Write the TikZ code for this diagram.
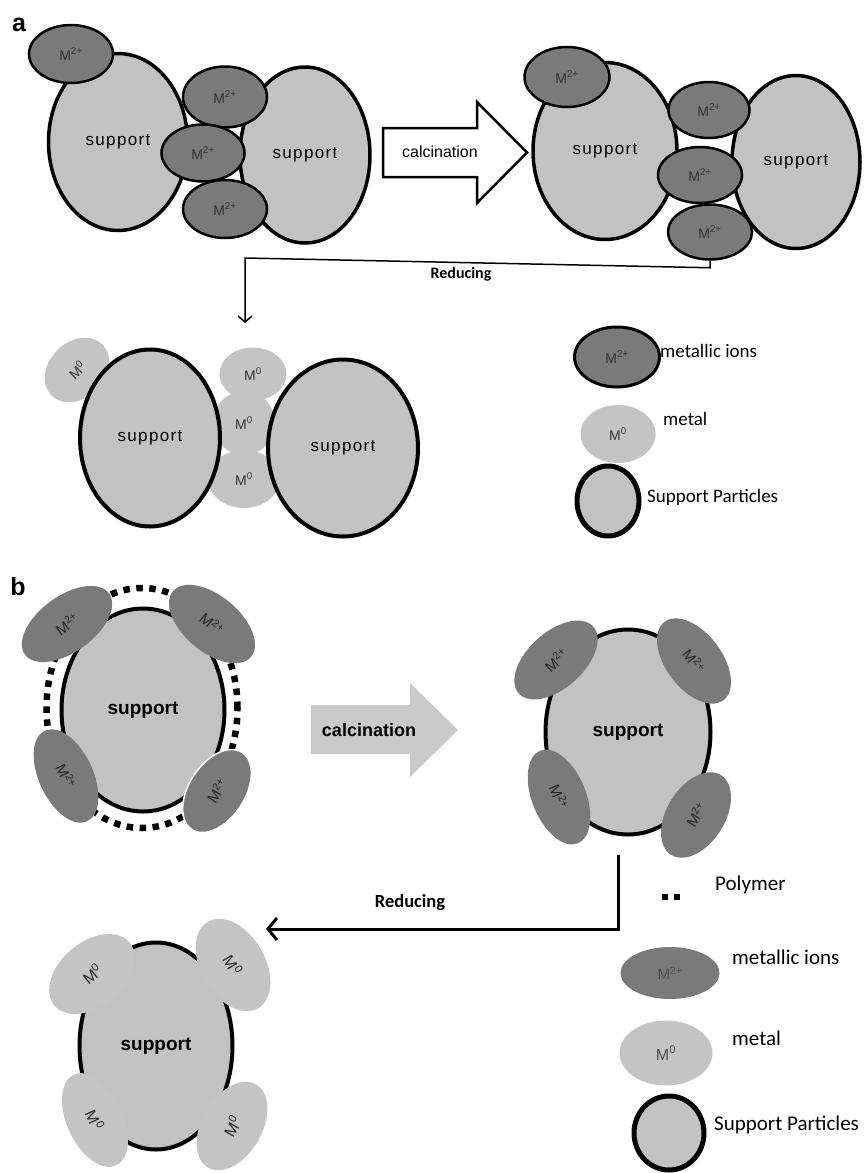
\documentclass[tikz,border=0pt]{standalone}
\usepackage{fontspec}
\setmainfont{Liberation Sans}
\newfontfamily\calfont{Carlito}
\newfontfamily\spfont[LetterSpace=8]{Liberation Sans}
\usetikzlibrary{shapes.geometric,arrows.meta}
\definecolor{suppgray}{gray}{0.76}
\definecolor{iongray}{gray}{0.48}
\definecolor{metalgray}{gray}{0.77}
\definecolor{arrowgray}{gray}{0.79}
\definecolor{txtdark}{gray}{0.2}
\newcommand\Mion{M\textsuperscript{2+}}
\newcommand\Mzero{M\textsuperscript{0}}
\tikzset{
  sz/.style 2 args={minimum width=#1pt, minimum height=#2pt},
  supp/.style={ellipse, draw=black, line width=3.5pt, fill=suppgray, inner sep=0pt,
    font=\spfont\fontsize{17}{17}\selectfont},
  ion/.style={ellipse, draw=black, line width=2.5pt, fill=iongray, inner sep=0pt,
    text=txtdark, font=\fontsize{14}{14}\selectfont},
  metal/.style={ellipse, fill=metalgray, inner sep=0pt, text=txtdark,
    font=\fontsize{14}{14}\selectfont},
  bsupp/.style={ellipse, draw=black, line width=4pt, fill=suppgray, inner sep=0pt,
    font=\bfseries\fontsize{19}{19}\selectfont},
  bion/.style={ellipse, fill=iongray, inner sep=0pt, text=black!85,
    font=\fontsize{15}{15}\selectfont},
  bmetal/.style={ellipse, fill=metalgray, inner sep=0pt, text=black!85,
    font=\fontsize{16}{16}\selectfont},
  legtext/.style={anchor=west, inner sep=0pt, font=\calfont\fontsize{19}{19}\selectfont},
  legtextb/.style={anchor=west, inner sep=0pt, font=\calfont\fontsize{21}{21}\selectfont},
  redu/.style={font=\calfont\bfseries\fontsize{16}{16}\selectfont},
  panel/.style={font=\bfseries\fontsize{25}{25}\selectfont},
}
\begin{document}
\begin{tikzpicture}[x=1pt,y=-1pt]
\useasboundingbox (0,0) rectangle (867,1173);

% ---------- panel a ----------
\node[panel] (la) at (19,25) {a};

% top-left group
\node[supp, sz={139}{177}] (s1) at (118,142) {support};
\node[supp, sz={130}{176}] (s2) at (305,155) {support};
\node[ion, sz={84}{58}] (i1) at (71,54) {\Mion};
\node[ion, sz={84}{61}] (i2) at (225,97) {\Mion};
\node[ion, sz={83}{57}] (i3) at (203,153) {\Mion};
\node[ion, sz={84}{58}] (i4) at (225,209) {\Mion};

% calcination arrow (white)
\draw[line width=2.5pt, fill=white] (383,128) -- (477,128) -- (477,102) -- (527,152.5)
  -- (477,203) -- (477,177) -- (383,177) -- cycle;
\node[font=\fontsize{16}{16}\selectfont] (ca) at (440,152) {calcination};

% top-right group
\node[supp, sz={144}{177}] (s3) at (605,151) {support};
\node[supp, sz={128}{173}] (s4) at (796,162) {support};
\node[ion, sz={85}{60}] (i5) at (567,77) {\Mion};
\node[ion, sz={81}{56}] (i6) at (709,110) {\Mion};
\node[ion, sz={84}{56}] (i7) at (700,175) {\Mion};
\node[ion, sz={84}{55}] (i8) at (710,232) {\Mion};

% reducing connector a
\coordinate (ra1) at (245,258);
\coordinate (ra2) at (245,323);
\draw[line width=1.5pt, -{Straight Barb[length=6pt,width=14pt]}]
  (i8.south) -- ++(0,7) -- (ra1) -- (ra2);
\node[redu] (rl1) at (461,274) {Reducing};

% bottom-left group
\node[metal, sz={72}{56}, rotate=45] (m1) at (77,370) {\Mzero};
\node[metal, sz={67}{53}] (m2) at (253,374) {\Mzero};
\node[metal, sz={62}{64}] (m3) at (244,423) {\Mzero};
\node[metal, sz={72}{58}] (m4) at (244,479) {\Mzero};
\node[supp, line width=4pt, sz={140}{177}] (s5) at (150,438) {support};
\node[supp, line width=4pt, sz={150}{177}] (s6) at (343,448) {support};

% legend a
\node[ion, line width=3pt, sz={85}{60}] (li) at (617,357) {\Mion};
\node[legtext] (lit) at (660,351) {metallic ions};
\node[metal, sz={75}{58}] (lm) at (618,434) {\Mzero};
\node[legtext] (lmt) at (663,419) {metal};
\node[supp, line width=5pt, sz={62}{70}] (ls) at (608,501) {};
\node[legtext] (lst) at (647,497) {Support Particles};

% ---------- panel b ----------
\node[panel] (lb) at (18,587) {b};

% group 1 with polymer
\node[ellipse, draw=black, line width=6.5pt, dash pattern=on 6.5pt off 6.5pt,
  sz={191}{240}] (poly) at (142,708) {};
\node[bsupp, sz={163}{203}] (bs1) at (143,710) {support};
\node[bion, sz={104}{56}, rotate=36] (b1a) at (67,624) {\Mion};
\node[bion, sz={102}{56}, rotate=-40] (b1b) at (212,624) {\Mion};
\node[bion, sz={100}{54}, rotate=-65] (b1c) at (66,776) {\Mion};
\node[bion, draw=white, line width=1.5pt, sz={92}{56}, rotate=57] (b1d) at (217,791) {\Mion};

% calcination arrow (grey)
\fill[arrowgray] (311,705) -- (410,705) -- (410,683) -- (458,730) -- (410,777)
  -- (410,754) -- (311,754) -- cycle;
\node[font=\bfseries\fontsize{18}{18}\selectfont] (cb) at (369,730) {calcination};

% group 2
\node[bsupp, sz={165}{205}] (bs2) at (628,732) {support};
\node[bion, sz={100}{56}, rotate=42] (b2a) at (556,660) {\Mion};
\node[bion, sz={98}{56}, rotate=-53] (b2b) at (694,661) {\Mion};
\node[bion, sz={100}{54}, rotate=-68] (b2c) at (559,797) {\Mion};
\node[bion, sz={94}{58}, rotate=58] (b2d) at (696,815) {\Mion};

% reducing connector b
\coordinate (rb) at (266,929);
\draw[line width=3pt, -{Straight Barb[length=9pt,width=22pt]}]
  (bs2.south) ++(-10,18) |- (rb);
\node[redu, font=\calfont\bfseries\fontsize{18.5}{18.5}\selectfont] (rl2) at (410,903) {Reducing};

% group 3
\node[bsupp, sz={153}{207}] (bs3) at (156,1046) {support};
\node[bmetal, sz={98}{64}, rotate=40] (b3a) at (92,974) {\Mzero};
\node[bmetal, sz={100}{64}, rotate=-60] (b3b) at (233,965) {\Mzero};
\node[bmetal, sz={100}{56}, rotate=-65] (b3c) at (95,1120) {\Mzero};
\node[bmetal, sz={96}{60}, rotate=60] (b3d) at (232,1126) {\Mzero};

% legend b
\draw[line width=6pt, dash pattern=on 6pt off 6pt] (662,897) -- (680,897);
\node[legtextb] (lpt) at (715,885) {Polymer};
\node[bion, sz={99}{52}, text=black!70] (lbi) at (670,973) {\Mion};
\node[legtextb] (lbit) at (732,957) {metallic ions};
\node[bmetal, sz={93}{65}, text=black!70] (lbm) at (666,1053) {\Mzero};
\node[legtextb] (lbmt) at (732,1038) {metal};
\node[supp, line width=5pt, sz={70}{74}] (lbs) at (669,1133) {};
\node[legtextb] (lbst) at (714,1125) {Support Particles};
\end{tikzpicture}
\end{document}
